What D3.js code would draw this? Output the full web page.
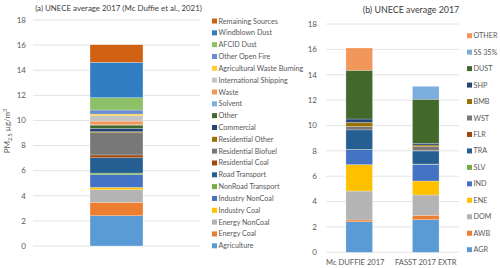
<!DOCTYPE html>
<html>
<head>
<meta charset="utf-8">
<script src="https://cdn.jsdelivr.net/npm/d3@7"></script>
<style>
  html, body { margin: 0; padding: 0; background: #fff; }
  svg { display: block; font-family: Lato, "Open Sans", sans-serif; }
</style>
</head>
<body>
<svg id="chart" width="500" height="268"></svg>
<script>
// (a) sources, bottom to top
var sourceNames = ["Agriculture", "Energy Coal", "Energy NonCoal", "Industry Coal", "Industry NonCoal",
  "NonRoad Transport", "Road Transport", "Residential Coal", "Residential Biofuel", "Residential Other",
  "Commercial", "Other", "Solvent", "Waste", "International Shipping", "Agricultural Waste Burning",
  "Other Open Fire", "AFCID Dust", "Windblown Dust", "Remaining Sources"];
var sourceValues = [2.41, 1.07, 1.00, 0.19, 1.01, 0.13, 1.22, 0.22, 1.77, 0.08,
  0.27, 0.26, 0.02, 0.30, 0.42, 0.14, 0.32, 0.98, 2.82, 1.40];
var sourceColors = ["#5B9BD5", "#ED7D31", "#B4B4B4", "#FFC000", "#4472C4", "#70AD47", "#255E91", "#9E480E",
  "#787878", "#997300", "#264478", "#43682B", "#7CAFDD", "#F1975A", "#C4C4C4", "#FFCD33",
  "#698ED0", "#8CC168", "#327DC2", "#D26012"];

// (b) sectors, bottom to top
var sectorNames = ["AGR", "AWB", "DOM", "ENE", "IND", "SLV", "TRA", "FLR", "WST", "BMB", "SHP", "DUST", "SS 35%", "OTHER"];
var barNames = ["Mc DUFFIE 2017", "FASST 2017 EXTR"];
var mcDuffieValues = [2.41, 0.14, 2.28, 2.08, 1.18, 0.02, 1.54, 0.00, 0.27, 0.32, 0.27, 3.84, 0.00, 1.76];
var fasstValues = [2.57, 0.35, 1.60, 1.10, 1.32, 0.02, 1.03, 0.03, 0.31, 0.13, 0.14, 3.47, 1.02, 0.00];
var sectorColors = ["#5B9BD5", "#ED7D31", "#B4B4B4", "#FFC000", "#4472C4", "#70AD47", "#255E91", "#9E480E",
  "#787878", "#997300", "#264478", "#43682B", "#7CAFDD", "#F1975A"];

var yTicks = [0, 2, 4, 6, 8, 10, 12, 14, 16, 18];

var svg = d3.select("#chart");
var gridColor = "#E4E4E4";
var labelColor = "#595959";

function drawGrid(g, y, x0, x1, labelX) {
  g.selectAll("line.grid").data(yTicks).enter().append("line")
    .attr("class", "grid")
    .attr("x1", x0).attr("x2", x1)
    .attr("y1", function (d) { return y(d); })
    .attr("y2", function (d) { return y(d); })
    .attr("stroke", gridColor).attr("stroke-width", 1);
  g.selectAll("text.tick").data(yTicks).enter().append("text")
    .attr("class", "tick")
    .attr("x", labelX)
    .attr("y", function (d) { return y(d); })
    .attr("dy", "0.35em")
    .attr("text-anchor", "end")
    .attr("font-size", 8)
    .attr("fill", labelColor)
    .text(function (d) { return d; });
}

// ---- panel (a)
var gA = svg.append("g");
var yA = d3.scaleLinear().domain([0, 18]).range([246, 20]);
var xA = d3.scaleBand().domain(["UNECE"]).range([33, 200]).paddingInner(0.683).paddingOuter(0.341);
drawGrid(gA, yA, 33, 200, 26);

var rowA = { cat: "UNECE" };
sourceNames.forEach(function (n, i) { rowA[n] = sourceValues[i]; });
var stackA = d3.stack().keys(sourceNames)([rowA]);
var colorA = d3.scaleOrdinal().domain(sourceNames).range(sourceColors);

gA.selectAll("rect.seg").data(stackA).enter().append("rect")
  .attr("class", "seg")
  .attr("x", xA("UNECE"))
  .attr("width", xA.bandwidth())
  .attr("y", function (s) { return yA(s[0][1]); })
  .attr("height", function (s) { return yA(s[0][0]) - yA(s[0][1]); })
  .attr("fill", function (s) { return colorA(s.key); })
  .attr("stroke", "#fff").attr("stroke-width", 0.4).attr("stroke-opacity", 0.6);

gA.append("text")
  .attr("x", 118.5).attr("y", 11)
  .attr("text-anchor", "middle")
  .attr("font-size", 7.9)
  .attr("fill", "#404040")
  .text("(a) UNECE average 2017 (Mc Duffie et al., 2021)");

var yLab = gA.append("text")
  .attr("transform", "translate(10,131) rotate(-90)")
  .attr("text-anchor", "middle")
  .attr("font-size", 8)
  .attr("fill", labelColor);
yLab.append("tspan").text("PM");
yLab.append("tspan").attr("font-size", 5.5).attr("dy", 2).text("2.5");
yLab.append("tspan").attr("dy", -2).text(" µg/m");
yLab.append("tspan").attr("font-size", 5.5).attr("dy", -3).text("3");

var legA = gA.selectAll("g.leg").data(sourceNames.slice().reverse()).enter().append("g")
  .attr("class", "leg")
  .attr("transform", function (d, i) { return "translate(212," + (21 + i * 11.83) + ")"; });
legA.append("rect").attr("x", 0).attr("y", -2.5).attr("width", 5).attr("height", 5)
  .attr("fill", function (d) { return colorA(d); });
legA.append("text").attr("x", 6.5).attr("dy", "0.35em")
  .attr("font-size", 7.2).attr("fill", labelColor)
  .text(function (d) { return d; });

// ---- panel (b)
var gB = svg.append("g");
var yB = d3.scaleLinear().domain([0, 18]).range([252.3, 24]);
var xB = d3.scaleBand().domain(barNames).range([326, 459]).paddingInner(0.6).paddingOuter(0.3);
drawGrid(gB, yB, 326, 459, 317);

var rowsB = barNames.map(function (b, j) {
  var vals = j === 0 ? mcDuffieValues : fasstValues;
  var r = { bar: b };
  sectorNames.forEach(function (n, i) { r[n] = vals[i]; });
  return r;
});
var stackB = d3.stack().keys(sectorNames)(rowsB);
var colorB = d3.scaleOrdinal().domain(sectorNames).range(sectorColors);

gB.selectAll("g.layer").data(stackB).enter().append("g")
  .attr("class", "layer")
  .attr("fill", function (s) { return colorB(s.key); })
  .selectAll("rect").data(function (s) { return s; }).enter().append("rect")
  .attr("x", function (d) { return xB(d.data.bar); })
  .attr("width", xB.bandwidth())
  .attr("y", function (d) { return yB(d[1]); })
  .attr("height", function (d) { return yB(d[0]) - yB(d[1]); })
  .attr("stroke", "#fff").attr("stroke-width", 0.4).attr("stroke-opacity", 0.6);

gB.selectAll("text.xlab").data(barNames).enter().append("text")
  .attr("class", "xlab")
  .attr("x", function (d) { return xB(d) + xB.bandwidth() / 2 - (d === barNames[0] ? 4 : 0); })
  .attr("y", 265)
  .attr("text-anchor", "middle")
  .attr("font-size", 7.6)
  .attr("fill", labelColor)
  .text(function (d) { return d; });

gB.append("text")
  .attr("x", 411).attr("y", 13)
  .attr("text-anchor", "middle")
  .attr("font-size", 8.9)
  .attr("fill", "#404040")
  .text("(b) UNECE average 2017");

var legB = gB.selectAll("g.leg").data(sectorNames.slice().reverse()).enter().append("g")
  .attr("class", "leg")
  .attr("transform", function (d, i) { return "translate(467," + (35.7 + i * 16.46) + ")"; });
legB.append("rect").attr("x", 0).attr("y", -2.5).attr("width", 5).attr("height", 5)
  .attr("fill", function (d) { return colorB(d); });
legB.append("text").attr("x", 6.5).attr("dy", "0.35em")
  .attr("font-size", 7.2).attr("fill", labelColor)
  .text(function (d) { return d; });
</script>
</body>
</html>
